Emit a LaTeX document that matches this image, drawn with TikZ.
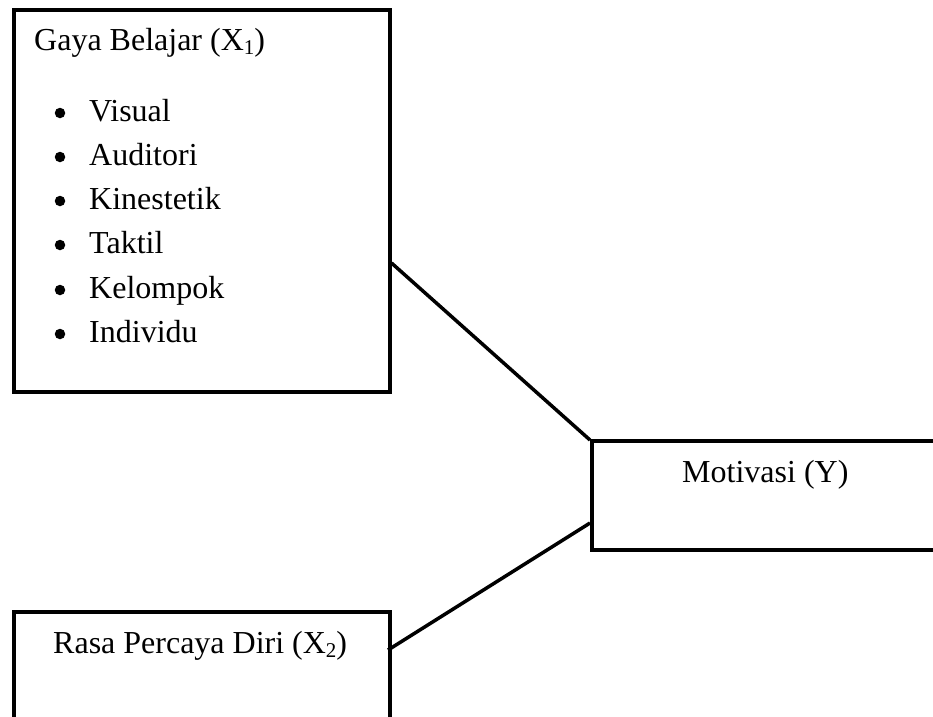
\documentclass[tikz,border=0pt]{standalone}
\usepackage{fontspec}
\setmainfont{Liberation Serif}
\usetikzlibrary{calc}
\tikzset{
  boxnode/.style={draw=black, line width=3.5pt, rectangle, inner sep=0pt, anchor=north west},
  conn/.style={draw=black, line width=3.5pt},
  txt/.style={anchor=base west, inner sep=0pt, font=\fontsize{32}{36}\selectfont},
  bul/.style={circle, fill=black, inner sep=0pt, minimum size=10.5pt}
}
\newcommand{\subx}[1]{\raisebox{-0.15em}{\fontsize{21}{21}\selectfont #1}}
\begin{document}
\begin{tikzpicture}[x=1pt,y=-1pt]
\useasboundingbox (0,0) rectangle (933,716);
\clip (0,0) rectangle (933,716);
% boxes
\node[boxnode, minimum width=376pt, minimum height=382pt] (x1) at (12,8) {};
\node[boxnode, minimum width=348pt, minimum height=109pt] (y) at (590,439) {};
\node[boxnode, minimum width=376pt, minimum height=140pt] (x2) at (12,610) {};
% connectors
\draw[conn] ($(x1.north east)+(0,255)$) -- ($(y.north west)+(0,1)$);
\draw[conn] ($(x2.north west)+(376,40)$) -- ($(y.north west)+(0,84)$);
% texts
\node[txt] (t1) at (34,50) {Gaya Belajar (X\subx{1})};
\node[bul] (b1) at (60,113) {};
\node[txt] (i1) at (89,121) {Visual};
\node[bul] (b2) at (60,157) {};
\node[txt] (i2) at (89,165) {Auditori};
\node[bul] (b3) at (60,201) {};
\node[txt] (i3) at (89,209) {Kinestetik};
\node[bul] (b4) at (60,245) {};
\node[txt] (i4) at (89,253) {Taktil};
\node[bul] (b5) at (60,290) {};
\node[txt] (i5) at (89,298) {Kelompok};
\node[bul] (b6) at (60,334) {};
\node[txt] (i6) at (89,342) {Individu};
\node[txt] (ty) at (682,482) {Motivasi (Y)};
\node[txt] (t2) at (53,653) {Rasa Percaya Diri (X\subx{2})};
\end{tikzpicture}
\end{document}
